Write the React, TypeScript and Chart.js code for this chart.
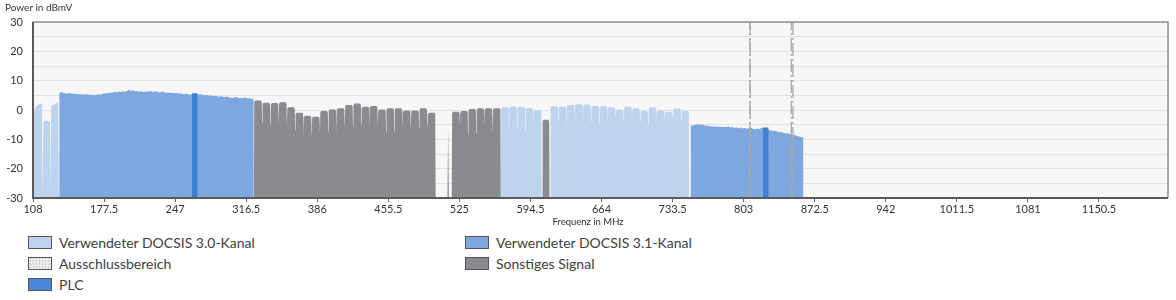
import React, { useEffect, useRef } from "react";
import { Chart, registerables } from "chart.js";

Chart.register(...registerables);

// ---------- axes ----------
const xTickValues = [108, 177.5, 247, 316.5, 386, 455.5, 525, 594.5, 664, 733.5, 803, 872.5, 942, 1011.5, 1081, 1150.5];
const xMin = 108;
const xMax = 1218;
const yMin = -30;
const yMax = 30;
const yLabelStep = 10;
const yGridStep = 5;

// ---------- DOCSIS 3.0 (SC-QAM, 8 MHz channels) ----------
const d30LowFreqs = [108.2, 108.8, 110, 112, 114, 116, 116.8, 117.2, 117.6, 118.2, 121, 124.6, 125.2, 125.8, 128, 130, 132.5, 133.2, 133.4];
const d30LowPower = [-30, -1, 0.8, 1.5, 2.0, 2.3, 2.0, -30, -30, -4, -3.5, -4, -30, 1.2, 1.8, 2.2, 2.6, 2.5, -30];

const d30BlockCStart = 565.5;
const d30BlockCLevels = [1.0, 1.2, 1.1, 0.6, -0.2];
const d30BlockCDips = [-7.5, -6.5, -7.5, -5.5];

const d30BlockDStart = 613.8;
const d30BlockDLevels = [1.3, 1.1, 1.7, 2.0, 1.9, 1.4, 1.3, 0.9, 0.2, 1.2, 0.6, -0.3, 0.9, -0.2, -0.6, 0.5, -0.3];
const d30BlockDDips = [-3.5, -7, -4.5, -3.5, -4, -5, -3.5, -3, -5, -3.5, -4, -5.5, -3.5, -4, -5, -3.5];

// ---------- DOCSIS 3.1 (OFDM, sampled every 2 MHz) ----------
const d31Block1Edges = [133.5, 323.8];
const d31Block1Start = 134;
const d31Block1Step = 2;
const d31Block1Power = [
  5.9, 6.1, 5.8, 5.7, 5.6, 5.8, 5.5, 5.6, 5.4, 5.5,
  5.3, 5.4, 5.2, 5.4, 5.3, 5.1, 5.3, 5.0, 5.1, 5.4,
  5.2, 5.5, 5.6, 5.8, 5.7, 6.0, 5.9, 6.2, 6.0, 6.3,
  6.1, 6.4, 6.2, 6.6, 6.9, 6.5, 6.7, 6.3, 6.5, 6.2,
  6.4, 6.1, 6.3, 6.2, 6.5, 6.3, 6.1, 6.4, 6.2, 6.0,
  6.3, 6.1, 5.9, 6.0, 5.8, 5.9, 5.7, 5.8, 5.6, 5.7,
  5.5, 5.4, 5.6, 5.3, 5.2, 5.6, 5.5, 5.4, 5.3, 5.4,
  5.2, 5.0, 5.1, 4.9, 5.0, 4.8, 4.9, 4.7, 4.6, 4.7,
  4.5, 4.4, 4.6, 4.2, 4.3, 4.1, 4.4, 4.3, 4.0, 4.2,
  4.1, 4.3, 3.9, 4.0, 3.8,
];

const d31Block2Edges = [751.2, 861.5];
const d31Block2Start = 752;
const d31Block2Step = 2;
const d31Block2Power = [
  -5.4, -5.2, -5.0, -4.9, -5.1, -4.9, -5.2, -5.4, -5.3, -5.6,
  -5.5, -5.7, -5.5, -5.8, -5.6, -5.9, -5.7, -5.8, -5.6, -6.0,
  -5.8, -6.1, -5.9, -6.2, -6.0, -6.3, -6.1, -6.4, -6.2, -6.0,
  -6.4, -6.6, -6.3, -6.5, -6.2, -6.0, -6.3, -6.6, -6.9, -7.0,
  -7.2, -7.1, -7.4, -7.6, -7.5, -7.8, -8.0, -7.9, -8.2, -8.3,
  -8.5, -8.7, -8.9, -9.1, -9.3,
];

// ---------- PLC ----------
const plcStart = [263.5, 821.9];
const plcEnd = [268.8, 827.5];
const plcPower = [5.7, -6.0];

// ---------- Sonstiges Signal ----------
const otherBlock1Start = 324;
const otherBlock1Width = 8.08;
const otherBlock1Levels = [3.2, 2.5, 2.4, 2.6, 0.9, -0.9, -2.0, -2.3, -0.3, 0.2, 0.6, 1.7, 2.2, 1.1, 1.4, 0.2, 0.6, 0.6, -0.2, -0.2, 0.6, -0.9];
const otherBlock1Dips = [-4.5, -5.1, -5.1, -5.7, -6.8, -9.7, -10.2, -7.9, -7.4, -7.9, -6.8, -5.7, -5.1, -6.2, -5.7, -7.9, -7.4, -6.8, -7.4, -6.2, -5.7];
const otherSpikeFreq = 514;
const otherSpikePower = -6.2;
const otherBlock2Start = 517.5;
const otherBlock2Levels = [-0.6, -0.3, 0.3, 0.6, 0.6, 0.6];
const otherBlock2Dips = [-4.5, -8.5, -8, -5.5, -8.5];
const otherBlock3Start = 606;
const otherBlock3Width = 7.3;
const otherBlock3Levels = [-3.3];

// ---------- Ausschlussbereich ----------
const exclusionStart = [809, 849.6];
const exclusionEnd = [809.5, 851.2];

const CH_WIDTH = 8;
const FLOOR = -30;

const COLORS = {
  d30: "#bdd3ee",
  d31: "#7da7de",
  plc: "#3f7fd4",
  other: "#898b8e",
  excl: "#a9a9a9",
};

type P = { x: number; y: number | null };

function channelPoints(start: number, levels: number[], dips: number[], width = CH_WIDTH): P[] {
  const pts: P[] = [{ x: start, y: FLOOR }];
  levels.forEach((lv, i) => {
    const s = start + i * width;
    pts.push({ x: s + 0.4, y: lv - 0.5 }, { x: s + 1.4, y: lv }, { x: s + width - 1.4, y: lv }, { x: s + width - 0.4, y: lv - 0.5 });
    if (i < levels.length - 1) pts.push({ x: s + width, y: dips[i] });
  });
  pts.push({ x: start + levels.length * width, y: FLOOR });
  return pts;
}

function samplePoints(edges: number[], start: number, step: number, values: number[]): P[] {
  const pts: P[] = [{ x: edges[0], y: FLOOR }, { x: edges[0] + 0.1, y: values[0] }];
  values.forEach((v, i) => pts.push({ x: start + i * step, y: v }));
  pts.push({ x: edges[1] - 0.1, y: values[values.length - 1] }, { x: edges[1], y: FLOOR });
  return pts;
}

function pairPoints(xs: number[], ys: number[]): P[] {
  return xs.map((x, i) => ({ x, y: ys[i] }));
}

const legendItems = [
  { label: "Verwendeter DOCSIS 3.0-Kanal", bg: COLORS.d30, col: 0, row: 0 },
  { label: "Verwendeter DOCSIS 3.1-Kanal", bg: COLORS.d31, col: 1, row: 0 },
  { label: "Ausschlussbereich", bg: "pattern", col: 0, row: 1 },
  { label: "Sonstiges Signal", bg: COLORS.other, col: 1, row: 1 },
  { label: "PLC", bg: "#4a87d8", col: 0, row: 2 },
];

const FONT = "Lato, 'Open Sans', sans-serif";

export default function App() {
  const canvasRef = useRef<HTMLCanvasElement | null>(null);

  useEffect(() => {
    document.body.style.margin = "0";
    document.body.style.background = "#ffffff";
    const canvas = canvasRef.current;
    if (!canvas) return;

    const d30Data: P[] = [
      ...pairPoints(d30LowFreqs, d30LowPower),
      ...channelPoints(d30BlockCStart, d30BlockCLevels, d30BlockCDips),
      ...channelPoints(d30BlockDStart, d30BlockDLevels, d30BlockDDips),
    ];
    const d31Data: P[] = [
      ...samplePoints(d31Block1Edges, d31Block1Start, d31Block1Step, d31Block1Power),
      ...samplePoints(d31Block2Edges, d31Block2Start, d31Block2Step, d31Block2Power),
    ];
    const plcData: P[] = [];
    plcStart.forEach((s, i) => {
      plcData.push({ x: s, y: FLOOR }, { x: s + 0.05, y: plcPower[i] }, { x: plcEnd[i] - 0.05, y: plcPower[i] }, { x: plcEnd[i], y: FLOOR });
    });
    const otherData: P[] = [
      ...channelPoints(otherBlock1Start, otherBlock1Levels, otherBlock1Dips, otherBlock1Width),
      { x: otherSpikeFreq - 0.7, y: FLOOR },
      { x: otherSpikeFreq, y: otherSpikePower },
      { x: otherSpikeFreq + 0.7, y: FLOOR },
      ...channelPoints(otherBlock2Start, otherBlock2Levels, otherBlock2Dips),
      ...channelPoints(otherBlock3Start, otherBlock3Levels, [], otherBlock3Width),
    ];
    const exclData: P[] = [];
    exclusionStart.forEach((s, i) => {
      exclData.push({ x: s, y: yMin }, { x: s, y: yMax }, { x: (s + exclusionEnd[i]) / 2, y: null }, { x: exclusionEnd[i], y: yMax }, { x: exclusionEnd[i], y: yMin }, { x: exclusionEnd[i] + 0.01, y: null });
    });

    const areaDs = (label: string, data: P[], color: string) => ({
      label,
      data,
      fill: "start",
      backgroundColor: color,
      borderColor: "rgba(0,0,0,0)",
      borderWidth: 0,
      pointRadius: 0,
      tension: 0,
    });

    const framePlugin = {
      id: "frame",
      beforeDraw(chart: any) {
        const { ctx, chartArea } = chart;
        const { left, top, right, bottom } = chartArea;
        ctx.save();
        ctx.fillStyle = "#f7f7f7";
        ctx.fillRect(left, top, right - left, bottom - top);
        ctx.restore();
      },
      afterDraw(chart: any) {
        const { ctx, chartArea } = chart;
        const { left, top, right, bottom } = chartArea;
        ctx.save();
        ctx.strokeStyle = "#8f8f8f";
        ctx.lineWidth = 1.5;
        ctx.beginPath();
        ctx.moveTo(left, top);
        ctx.lineTo(right, top);
        ctx.lineTo(right, bottom);
        ctx.stroke();
        ctx.strokeStyle = "#5a5a5a";
        ctx.lineWidth = 2;
        ctx.beginPath();
        ctx.moveTo(left, top);
        ctx.lineTo(left, bottom);
        ctx.lineTo(right, bottom);
        ctx.stroke();
        ctx.restore();
      },
    };

    const chart = new Chart(canvas, {
      type: "line",
      data: {
        datasets: [
          {
            label: "Ausschlussbereich",
            data: exclData,
            fill: false,
            borderColor: COLORS.excl,
            borderWidth: 1.3,
            borderDash: [13, 3, 2, 3],
            pointRadius: 0,
            spanGaps: false,
          } as any,
          areaDs("PLC", plcData, COLORS.plc),
          areaDs("Verwendeter DOCSIS 3.1-Kanal", d31Data, COLORS.d31),
          areaDs("Verwendeter DOCSIS 3.0-Kanal", d30Data, COLORS.d30),
          areaDs("Sonstiges Signal", otherData, COLORS.other),
        ],
      },
      options: {
        animation: false,
        responsive: false,
        devicePixelRatio: 1,
        layout: { padding: { top: 22, right: 8, left: 0, bottom: 0 } },
        plugins: {
          legend: { display: false },
          tooltip: { enabled: false },
          title: { display: false },
        },
        scales: {
          x: {
            type: "linear",
            min: xMin,
            max: xMax,
            afterFit: (s: any) => {
              s.height = 34;
            },
            afterBuildTicks: (s: any) => {
              s.ticks = xTickValues.map((v) => ({ value: v }));
            },
            ticks: {
              autoSkip: false,
              maxRotation: 0,
              padding: 1,
              color: "#333",
              font: { family: FONT, size: 11 },
              callback: (v: any) => String(v),
            },
            grid: { drawOnChartArea: false, drawTicks: true, tickLength: 4, color: "#666" },
            border: { display: false },
          },
          y: {
            type: "linear",
            min: yMin,
            max: yMax,
            afterFit: (s: any) => {
              s.width = 33;
            },
            ticks: {
              stepSize: yGridStep,
              autoSkip: false,
              padding: 10,
              color: "#333",
              font: { family: FONT, size: 11 },
              callback: (v: any) => (Number(v) % yLabelStep === 0 ? String(v) : ""),
            },
            grid: { color: "#e3e3e3", drawTicks: false, lineWidth: 1 },
            border: { display: false },
          },
        },
      } as any,
      plugins: [framePlugin],
    });

    return () => chart.destroy();
  }, []);

  return (
    <div style={{ position: "relative", width: 1176, height: 300, fontFamily: FONT, background: "#fff" }}>
      <canvas ref={canvasRef} width={1176} height={232} style={{ display: "block", width: 1176, height: 232 }} />
      <div style={{ position: "absolute", left: 5, top: 1, fontSize: 10, color: "#333", lineHeight: "12px" }}>Power in dBmV</div>
      <div style={{ position: "absolute", left: 0, width: 1176, top: 216, textAlign: "center", fontSize: 9.5, color: "#333", lineHeight: "12px" }}>Frequenz in MHz</div>
      {legendItems.map((it) => (
        <div
          key={it.label}
          style={{
            position: "absolute",
            left: it.col === 0 ? 28 : 465,
            top: 234 + it.row * 21,
            height: 16,
            display: "flex",
            alignItems: "center",
            fontSize: 14,
            color: "#404040",
            whiteSpace: "nowrap",
          }}
        >
          <span
            style={{
              display: "inline-block",
              width: 22,
              height: 11,
              border: "1px solid #555",
              marginRight: 7,
              background:
                it.bg === "pattern"
                  ? "repeating-conic-gradient(#d8d8d8 0% 25%, #f4f4f4 0% 50%) 0 0 / 3px 3px"
                  : it.bg,
            }}
          />
          <span>{it.label}</span>
        </div>
      ))}
    </div>
  );
}
